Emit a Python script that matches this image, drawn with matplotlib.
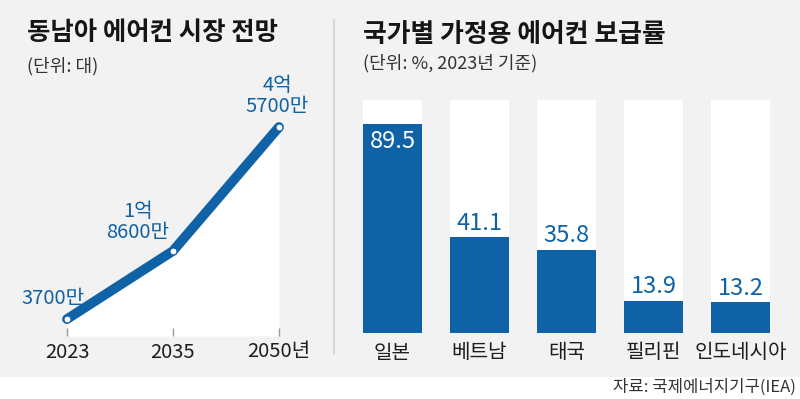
import matplotlib
matplotlib.use("Agg")
import matplotlib.pyplot as plt

plt.rcParams['font.family'] = ['Noto Sans CJK KR', 'DejaVu Sans']

# ---- data ----
years = ['2023', '2035', '2050년']
units_million = [37, 186, 457]
unit_labels = ['3700만', '1억\n8600만', '4억\n5700만']

countries = ['일본', '베트남', '태국', '필리핀', '인도네시아']
rates = [89.5, 41.1, 35.8, 13.9, 13.2]

title_left = '동남아 에어컨 시장 전망'
sub_left = '(단위: 대)'
title_right = '국가별 가정용 에어컨 보급률'
sub_right = '(단위: %, 2023년 기준)'
source = '자료: 국제에너지기구(IEA)'

BLUE = '#0f62a6'
BG = '#f2f2f2'
W, H = 800, 399

fig = plt.figure(figsize=(W / 100, H / 100), dpi=100)
fig.patch.set_facecolor('white')

def px_axes(x0, y0, x1, y1, **kw):
    return fig.add_axes([x0 / W, 1 - y1 / H, (x1 - x0) / W, (y1 - y0) / H], **kw)

# background panel
bg = px_axes(0, 0, W, 377)
bg.set_xlim(0, W); bg.set_ylim(377, 0)
bg.axis('off')
bg.add_patch(plt.Rectangle((0, 0), W, 377, color=BG, zorder=0))
bg.plot([334, 334], [20, 353], color='#d9d9d9', lw=1.6)

def ftext(x, y, s, **kw):
    fig.text(x / W, 1 - y / H, s, **kw)

ftext(27, 33, title_left, fontsize=18.3, fontweight='bold', color='#151515', va='center', ha='left')
ftext(27, 66, sub_left, fontsize=13, color='#333333', va='center', ha='left')
ftext(363, 34, title_right, fontsize=18.6, fontweight='bold', color='#151515', va='center', ha='left')
ftext(363, 63, sub_right, fontsize=13, color='#333333', va='center', ha='left')
ftext(796, 387, source, fontsize=12, color='#333333', va='center', ha='right')

# ---- left: line chart ----
axl = px_axes(20, 80, 320, 336)
axl.patch.set_alpha(0)
xs = list(range(len(years)))
axl.set_xlim(-47 / 106, 2 + 41 / 106)
axl.set_ylim(0, 256 / (209 / 457))
axl.fill_between(xs, units_million, 0, color='white', lw=0, zorder=1)
axl.plot(xs, units_million, color=BLUE, lw=7, solid_capstyle='round', zorder=3)
axl.plot(xs, units_million, ls='none', marker='o', ms=5, mfc='white', mec=BLUE, mew=0.8, zorder=4)
for s in axl.spines.values():
    s.set_visible(False)
axl.set_yticks([])
axl.set_xticks(xs)
axl.set_xticklabels([])
axl.tick_params(axis='x', direction='in', length=6, width=1, color='#9a9a9a')
for x, lab in zip(xs, years):
    axl.annotate(lab, (x, 0), xytext=(0, -16 * 0.72), textcoords='offset points',
                 ha='center', va='center', fontsize=14.5, color='#1e1e1e')
offsets = [(-14, 21), (-35, 29), (-2, 31)]
for x, v, lab, (dx, dy) in zip(xs, units_million, unit_labels, offsets):
    axl.annotate(lab, (x, v), xytext=(dx * 0.72, dy * 0.72), textcoords='offset points',
                 ha='center', va='center', fontsize=14.5, color=BLUE, linespacing=1.05,
                 annotation_clip=False, zorder=5)

# ---- right: bar chart ----
axr = px_axes(349, 100, 784, 333)
axr.patch.set_alpha(0)
xb = list(range(len(countries)))
bw = 59 / 87
axr.set_xlim(-0.5, len(countries) - 0.5)
axr.set_ylim(0, 100)
axr.bar(xb, [100] * len(xb), width=bw, color='white', zorder=1)
axr.bar(xb, rates, width=bw, color=BLUE, zorder=2)
axr.axis('off')
for x, v, c in zip(xb, rates, countries):
    if v > 80:
        axr.annotate(f'{v:.1f}', (x, v), xytext=(0, -17 * 0.72), textcoords='offset points',
                     ha='center', va='center', fontsize=17, color='white', zorder=3)
    else:
        axr.annotate(f'{v:.1f}', (x, v), xytext=(0, 14 * 0.72), textcoords='offset points',
                     ha='center', va='center', fontsize=17, color=BLUE, zorder=3)
    axr.annotate(c, (x, 0), xytext=(0, -20 * 0.72), textcoords='offset points',
                 ha='center', va='center', fontsize=14.5, color='#1e1e1e', annotation_clip=False)

fig.savefig('out.png', dpi=100, facecolor='white')
